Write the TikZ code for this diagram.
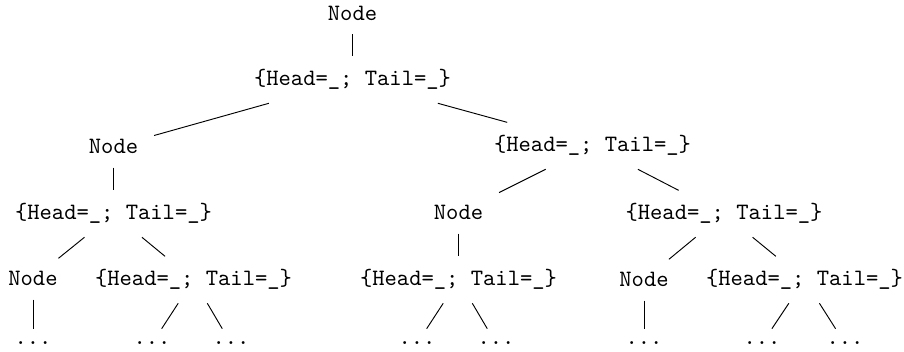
\documentclass[tikz,border=0pt]{standalone}
\usepackage{fontspec}
\begin{document}
\begin{tikzpicture}[x=0.4264pt,y=-0.4264pt,
  tn/.style={font=\ttfamily, inner xsep=6.6pt, inner ysep=5.5pt, anchor=base},
  edge/.style={draw=black, line width=0.4pt}]
\useasboundingbox (0,0) rectangle (904,352);
\newcommand{\hd}{\{Head=\_; Tail=\_\}}
% level 0-1
\node[tn] (n0) at (352.5,21) {Node};
\node[tn] (h0) at (352.5,86) {\hd};
% level 2
\node[tn] (n1) at (113.5,154) {Node};
\node[tn] (h1) at (592.5,152) {\hd};
% level 3
\node[tn] (h2) at (113.5,220) {\hd};
\node[tn] (n2) at (458.5,220) {Node};
\node[tn] (h3) at (724,220) {\hd};
% level 4
\node[tn] (n3) at (33,286) {Node};
\node[tn] (h4) at (193.5,286) {\hd};
\node[tn] (h5) at (458.5,286) {\hd};
\node[tn] (n4) at (644,287) {Node};
\node[tn] (h6) at (804.5,286) {\hd};
% level 5
\node[tn] (d1) at (33,345) {...};
\node[tn] (d2) at (152,345) {...};
\node[tn] (d3) at (231,345) {...};
\node[tn] (d4) at (417,345) {...};
\node[tn] (d5) at (496,345) {...};
\node[tn] (d6) at (644,345) {...};
\node[tn] (d7) at (762,345) {...};
\node[tn] (d8) at (845,345) {...};
% edges
\draw[edge] (n0) -- (h0);
\draw[edge] (h0) -- (n1);
\draw[edge] (h0) -- (h1);
\draw[edge] (n1) -- (h2);
\draw[edge] (h1) -- (n2);
\draw[edge] (h1) -- (h3);
\draw[edge] (h2) -- (n3);
\draw[edge] (h2) -- (h4);
\draw[edge] (n2) -- (h5);
\draw[edge] (h3) -- (n4);
\draw[edge] (h3) -- (h6);
\draw[edge] (n3) -- (d1);
\draw[edge] (h4) -- (d2);
\draw[edge] (h4) -- (d3);
\draw[edge] (h5) -- (d4);
\draw[edge] (h5) -- (d5);
\draw[edge] (n4) -- (d6);
\draw[edge] (h6) -- (d7);
\draw[edge] (h6) -- (d8);
\end{tikzpicture}
\end{document}
